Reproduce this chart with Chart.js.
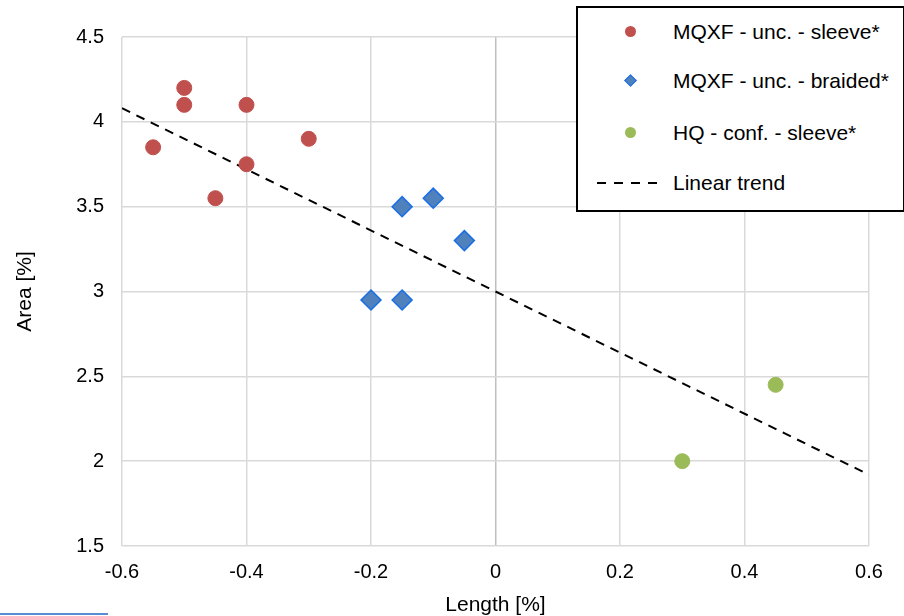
<!DOCTYPE html>
<html>
<head>
<meta charset="utf-8">
<script src="https://cdn.jsdelivr.net/npm/chart.js@4"></script>
<style>
  html, body { margin: 0; padding: 0; background: #fff; }
  #wrap { position: relative; width: 904px; height: 616px; font-family: "Liberation Sans", Arial, sans-serif; }
  #legendBox {
    position: absolute; left: 576px; top: 6px; width: 325px; height: 202px;
    border: 2px solid #000; background: #fff;
  }
  .row { position: absolute; left: 0; width: 325px; height: 24px; font-size: 21px; line-height: 24px; color: #000; }
  .row span.txt { position: absolute; left: 95px; top: 0; white-space: nowrap; }
  .mk { position: absolute; }
  #stray { position: absolute; left: 0; top: 613px; width: 108px; height: 2px; background: #5b8bd2; }
</style>
</head>
<body>
<div id="wrap">
  <canvas id="chart" width="904" height="616"></canvas>
  <div id="legendBox">
    <div class="row" style="top:12px"><div class="mk" style="left:47px;top:6px;width:11px;height:11px;border-radius:50%;background:#c0504d"></div><span class="txt">MQXF - unc. - sleeve*</span></div>
    <div class="row" style="top:61px"><div class="mk" style="left:48px;top:7px;width:7px;height:7px;transform:rotate(45deg);background:#4f81bd;border:1.5px solid #1a6ee6"></div><span class="txt">MQXF - unc. - braided*</span></div>
    <div class="row" style="top:113px"><div class="mk" style="left:47px;top:6px;width:11px;height:11px;border-radius:50%;background:#9bbb59"></div><span class="txt">HQ - conf. - sleeve*</span></div>
    <div class="row" style="top:163px">
      <div class="mk" style="left:19px;top:11px;width:9px;height:2px;background:#000"></div>
      <div class="mk" style="left:36px;top:11px;width:9px;height:2px;background:#000"></div>
      <div class="mk" style="left:53px;top:11px;width:9px;height:2px;background:#000"></div>
      <div class="mk" style="left:70px;top:11px;width:9px;height:2px;background:#000"></div>
      <span class="txt">Linear trend</span></div>
  </div>
  <div id="stray"></div>
</div>
<script>
// meetpunten per serie
const sleeveX = [-0.55, -0.5, -0.5, -0.45, -0.4, -0.4, -0.3];
const sleeveY = [3.85, 4.2, 4.1, 3.55, 4.1, 3.75, 3.9];

const braidedX = [-0.2, -0.15, -0.15, -0.1, -0.05];
const braidedY = [2.95, 2.95, 3.5, 3.55, 3.3];

const hqX = [0.3, 0.45];
const hqY = [2.0, 2.45];

// lineaire trend, begin- en eindpunt
const trendX = [-0.6, 0.6];
const trendY = [4.08, 1.92];

// as-ticks
const xTicks = [-0.6, -0.4, -0.2, 0, 0.2, 0.4, 0.6];
const yTicks = [1.5, 2, 2.5, 3, 3.5, 4, 4.5];

function toPoints(xs, ys) {
  return xs.map((x, i) => ({ x: x, y: ys[i] }));
}

const ctx = document.getElementById('chart').getContext('2d');
new Chart(ctx, {
  type: 'scatter',
  data: {
    datasets: [
      {
        label: 'Linear trend',
        type: 'line',
        data: toPoints(trendX, trendY),
        borderColor: '#000',
        borderWidth: 2,
        borderDash: [9, 7],
        pointRadius: 0,
        fill: false,
        order: 1
      },
      {
        label: 'MQXF - unc. - sleeve*',
        data: toPoints(sleeveX, sleeveY),
        backgroundColor: '#c0504d',
        borderColor: '#c0504d',
        pointRadius: 7.5,
        order: 0
      },
      {
        label: 'MQXF - unc. - braided*',
        data: toPoints(braidedX, braidedY),
        pointStyle: 'rectRot',
        backgroundColor: '#4f81bd',
        borderColor: '#1a6ee6',
        borderWidth: 1.5,
        pointRadius: 10,
        order: 0
      },
      {
        label: 'HQ - conf. - sleeve*',
        data: toPoints(hqX, hqY),
        backgroundColor: '#9bbb59',
        borderColor: '#9bbb59',
        pointRadius: 7.5,
        order: 0
      }
    ]
  },
  options: {
    responsive: false,
    animation: false,
    layout: { padding: { left: 0, right: 35, top: 37, bottom: 0 } },
    plugins: {
      legend: { display: false },
      tooltip: { enabled: false }
    },
    scales: {
      x: {
        type: 'linear',
        min: -0.6,
        max: 0.6,
        afterBuildTicks: s => { s.ticks = xTicks.map(v => ({ value: v })); },
        afterFit: s => { s.height = 70; },
        border: { display: false },
        grid: {
          drawTicks: false,
          lineWidth: 1.5,
          color: c => (c.tick && c.tick.value === 0) ? '#bfbfbf' : '#d9d9d9'
        },
        ticks: {
          padding: 14,
          color: '#000',
          font: { family: 'Liberation Sans', size: 20 },
          callback: v => String(Math.round(v * 10) / 10)
        },
        title: {
          display: true,
          text: 'Length [%]',
          color: '#000',
          font: { family: 'Liberation Sans', size: 21, lineHeight: 1 },
          padding: { top: 0, bottom: 0 }
        }
      },
      y: {
        type: 'linear',
        min: 1.5,
        max: 4.5,
        afterBuildTicks: s => { s.ticks = yTicks.map(v => ({ value: v })); },
        afterFit: s => { s.width = 122; },
        border: { display: false },
        grid: { drawTicks: false, lineWidth: 1.5, color: '#d9d9d9' },
        ticks: {
          padding: 18,
          color: '#000',
          font: { family: 'Liberation Sans', size: 20 },
          callback: v => String(v)
        },
        title: {
          display: true,
          text: 'Area [%]',
          color: '#000',
          font: { family: 'Liberation Sans', size: 21, lineHeight: 1 },
          padding: { top: 15, bottom: 0 }
        }
      }
    }
  }
});
</script>
</body>
</html>
